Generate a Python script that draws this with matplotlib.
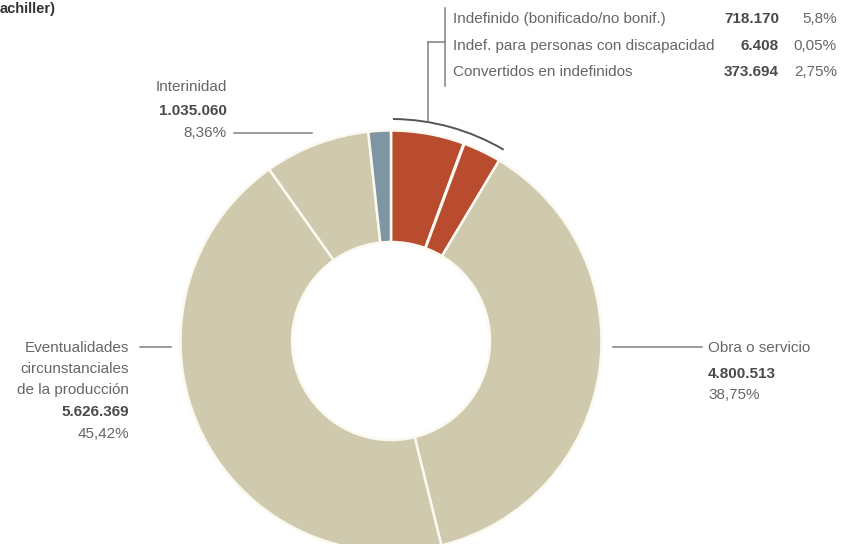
import matplotlib
matplotlib.use("Agg")
import matplotlib.pyplot as plt
from matplotlib.patches import Arc

plt.rcParams['font.family'] = ['Liberation Sans', 'DejaVu Sans']

# ---- data ----
categories = ["Indefinido (bonificado/no bonif.)",
              "Indef. para personas con discapacidad",
              "Convertidos en indefinidos",
              "Obra o servicio",
              "Eventualidades circunstanciales de la producción",
              "Interinidad",
              "Otros"]
values = [718170, 6408, 373694, 4800513, 5626369, 1035060, 220000]
value_labels = ["718.170", "6.408", "373.694", "4.800.513", "5.626.369", "1.035.060", ""]
pct_labels = ["5,8%", "0,05%", "2,75%", "38,75%", "45,42%", "8,36%", ""]
colors = ["#b94b2f", "#b94b2f", "#b94b2f", "#cfc9ad", "#cfc9ad", "#cfc9ad", "#7e95a3"]

W, H = 851, 544
fig = plt.figure(figsize=(W / 100, H / 100), dpi=100)
ax = fig.add_axes([0, 0, 1, 1])

def Y(y):
    return H - y

cx, cy = 391, 341
R, r = 210.5, 99

ax.pie(values, colors=colors, startangle=90, counterclock=False,
       center=(cx, Y(cy)), radius=R,
       wedgeprops=dict(width=R - r, edgecolor="#fbf9f0", linewidth=1.8))
ax.set_xlim(0, W)
ax.set_ylim(0, H)
ax.set_aspect("equal")
ax.axis("off")

gray = "#666666"
dark = "#4a4a4a"
lc = "#808080"
fs = 11

# cropped title fragment
ax.text(0, Y(9), "achiller)", fontsize=10.5, fontweight="bold", color="#333333",
        ha="left", va="center")

# legend block top right
rows_y = [19, 46, 72]
for i, yy in enumerate(rows_y):
    ax.text(453, Y(yy), categories[i], fontsize=fs, color=gray, ha="left", va="center")
    ax.text(779, Y(yy), value_labels[i], fontsize=fs, color=dark, fontweight="bold",
            ha="right", va="center")
    ax.text(837, Y(yy), pct_labels[i], fontsize=fs, color=gray, ha="right", va="center")

# bracket
ax.plot([445, 445], [Y(8), Y(86)], color=lc, lw=1.1)
ax.plot([428, 445], [Y(42), Y(42)], color=lc, lw=1.1)
ax.plot([428, 428], [Y(42), Y(121)], color=lc, lw=1.1)
arc = Arc((cx, Y(cy)), 2 * 222, 2 * 222, theta1=59.5, theta2=89.5,
          color="#555555", lw=1.4)
ax.add_patch(arc)

# Interinidad
ax.text(227, Y(87), "Interinidad", fontsize=fs, color=gray, ha="right", va="center")
ax.text(227, Y(111), value_labels[5], fontsize=fs, color=dark, fontweight="bold",
        ha="right", va="center")
ax.text(227, Y(133), pct_labels[5], fontsize=fs, color=gray, ha="right", va="center")
ax.plot([234, 312], [Y(133), Y(133)], color=lc, lw=1.1)

# Eventualidades
ev_lines = ["Eventualidades", "circunstanciales", "de la producción"]
for k, t in enumerate(ev_lines):
    ax.text(129, Y(348 + 21 * k), t, fontsize=fs, color=gray, ha="right", va="center")
ax.text(129, Y(412), value_labels[4], fontsize=fs, color=dark, fontweight="bold",
        ha="right", va="center")
ax.text(129, Y(434), pct_labels[4], fontsize=fs, color=gray, ha="right", va="center")
ax.plot([140, 171], [Y(347), Y(347)], color=lc, lw=1.1)

# Obra o servicio
ax.plot([613, 702], [Y(347), Y(347)], color=lc, lw=1.1)
ax.text(708, Y(348), "Obra o servicio", fontsize=fs, color=gray, ha="left", va="center")
ax.text(708, Y(374), value_labels[3], fontsize=fs, color=dark, fontweight="bold",
        ha="left", va="center")
ax.text(708, Y(395), pct_labels[3], fontsize=fs, color=gray, ha="left", va="center")

fig.savefig("out.png", dpi=100)
